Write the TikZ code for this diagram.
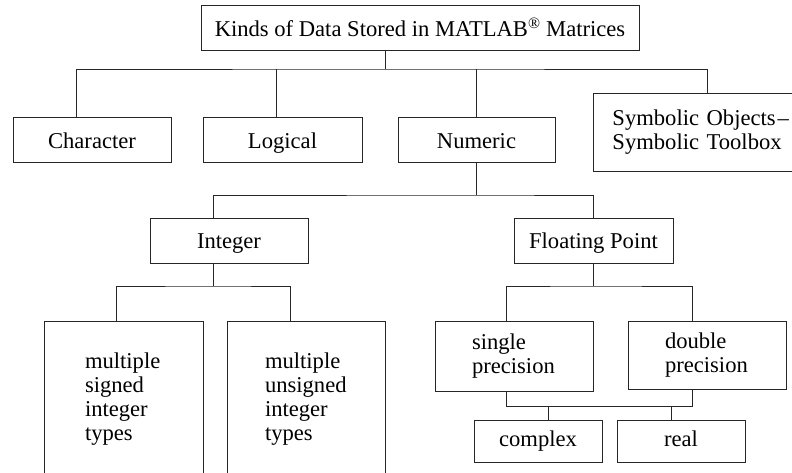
\documentclass[tikz,border=0pt]{standalone}
\usepackage{fontspec}
\setmainfont{Liberation Serif}
\usetikzlibrary{positioning, calc}
\tikzset{
  box/.style={rectangle, draw=black!85, line width=0.9pt, inner sep=0pt},
  kind/.style={box, minimum height=45pt, text height=20pt, text depth=3.5pt, text centered},
  link/.style={draw=black!85, line width=0.9pt}
}

\begin{document}
\begin{tikzpicture}[
            x=1pt, y=-1pt,
            every node/.style={font=\fontsize{22.6}{24}\selectfont},
            multi/.style={box, align=left},
            leaf/.style={kind, minimum width=128pt, minimum height=42pt, text height=15pt, text depth=3.6pt}
        ]
            \useasboundingbox (0,0) rectangle (792,473);
            \clip (0,0) rectangle (792,473);

            % Top level
            \node (kinds) [kind, minimum width=438pt, text height=21pt, text depth=3pt] at (420,27.5) {Kinds of Data Stored in MATLAB\textsuperscript{®} Matrices};
            \node (char) [kind, minimum width=158pt] at (92,140) {Character};
            \node (logic) [kind, minimum width=159pt] at (282.5,140) {Logical};
            \node (numeric) [kind, minimum width=157pt] at (476.5,140) {Numeric};
            \node (symbolic) [multi, anchor=north west, minimum width=230pt, minimum height=78pt, text width=192pt] at (593,93) {Symbolic Objects\hspace{2pt}–\\Symbolic Toolbox};

            % Numeric classes
            \node (integer) [kind, minimum width=158pt] at (229,240.5) {Integer};
            \node (float) [kind, minimum width=159pt] at (593.5,240.5) {Floating Point};

            % Integer and floating point types
            \node (signed) [multi, anchor=north, minimum width=159pt, minimum height=156pt, text width=77pt] at (123.5,321) {multiple\\signed\\integer\\types};
            \node (unsigned) [multi, anchor=north, minimum width=158pt, minimum height=156pt, text width=82pt] at (306,321) {multiple\\unsigned\\integer\\types};
            \node (single) [multi, anchor=north, minimum width=158pt, minimum height=70pt, text width=84pt] at (514,321) {single\\precision};
            \node (double) [multi, anchor=north, minimum width=158pt, minimum height=68pt, text width=84pt] at (707,321) {double\\precision};
            \node (complex) [leaf] at (538,441) {complex};
            \node (real) [leaf] at (681,441) {real};

            % Bus lines
            \coordinate (bus top) at (385,69);
            \coordinate (bus num) at (476.5,195);
            \coordinate (bus int) at (213,286);
            \coordinate (bus flt) at (593,286);
            \coordinate (bus prec) at (548,406);

            % Connectors
            \draw [link] ([xshift=-35pt]kinds.south) -- (bus top);
            \draw [link] ([xshift=-16pt]char.north) |- (bus top) -| ([xshift=114pt]symbolic.north west);
            \draw [link] ([xshift=-6.5pt]logic.north) -- ([xshift=-6.5pt]logic.north |- bus top);
            \draw [link] (numeric.north) -- (numeric.north |- bus top);

            \draw [link] (numeric.south) -- (bus num);
            \draw [link] ([xshift=-16pt]integer.north) |- (bus num) -| ([xshift=-0.5pt]float.north);

            \draw [link] ([xshift=-16pt]integer.south) -- (bus int);
            \draw [link] ([xshift=-7.5pt]signed.north) |- (bus int) -| ([xshift=-16pt]unsigned.north);

            \draw [link] ([xshift=-0.5pt]float.south) -- (bus flt);
            \draw [link] ([xshift=-8pt]single.north) |- (bus flt) -| ([xshift=-15pt]double.north);

            \draw [link] ([xshift=-8pt]single.south) |- ([xshift=-15pt]double.south |- bus prec) -- ([xshift=-15pt]double.south);
            \draw [link] (bus prec) -- ([xshift=10pt]complex.north);
            \draw [link] ([xshift=-10pt]real.north) -- ([xshift=-10pt]real.north |- bus prec);

        \end{tikzpicture}
\end{document}
